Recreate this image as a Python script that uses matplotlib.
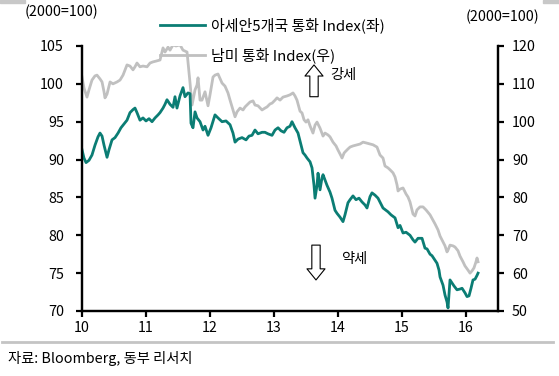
import matplotlib
matplotlib.use("Agg")
import matplotlib.pyplot as plt
from matplotlib.lines import Line2D
from matplotlib.patches import Rectangle

plt.rcParams['font.family'] = ['Noto Sans CJK KR', 'DejaVu Sans']

# 아세안5개국 통화 Index (좌축), x = 연도(2자리 + 소수)
asean_t = [10.000, 10.031, 10.063, 10.109, 10.156, 10.203, 10.250, 10.281, 10.313, 10.344,
           10.391, 10.422, 10.469, 10.516, 10.563, 10.609, 10.656, 10.703, 10.750, 10.797,
           10.828, 10.859, 10.906, 10.953, 11.000, 11.047, 11.094, 11.141, 11.188, 11.219,
           11.266, 11.297, 11.328, 11.375, 11.422, 11.453, 11.484, 11.531, 11.578, 11.609,
           11.656, 11.688, 11.703, 11.734, 11.766, 11.797, 11.844, 11.891, 11.922, 11.969,
           12.016, 12.078, 12.125, 12.188, 12.250, 12.313, 12.359, 12.391, 12.438, 12.500,
           12.563, 12.609, 12.656, 12.703, 12.750, 12.813, 12.859, 12.906, 12.969, 13.016,
           13.063, 13.109, 13.156, 13.203, 13.250, 13.281, 13.328, 13.375, 13.422, 13.453,
           13.484, 13.516, 13.563, 13.594, 13.625, 13.641, 13.672, 13.688, 13.719, 13.750,
           13.766, 13.797, 13.828, 13.875, 13.906, 13.953, 13.984, 14.031, 14.078, 14.109,
           14.156, 14.188, 14.234, 14.281, 14.328, 14.375, 14.422, 14.453, 14.500, 14.531,
           14.578, 14.625, 14.672, 14.703, 14.750, 14.781, 14.828, 14.891, 14.938, 14.969,
           15.016, 15.063, 15.125, 15.172, 15.203, 15.250, 15.313, 15.359, 15.391, 15.438,
           15.469, 15.516, 15.547, 15.578, 15.594, 15.641, 15.672, 15.703, 15.719, 15.734,
           15.750, 15.781, 15.813, 15.859, 15.906, 15.938, 15.984, 16.016, 16.047, 16.078,
           16.109, 16.141, 16.172, 16.188]
asean_v = [91.3, 90.2, 89.6, 89.9, 90.6, 91.9, 93.0, 93.5, 93.1, 91.9,
           90.3, 91.3, 92.6, 92.9, 93.5, 94.2, 94.7, 95.2, 96.2, 96.6,
           96.8, 96.2, 95.2, 95.5, 95.1, 95.4, 95.0, 95.5, 95.9, 96.2,
           96.8, 97.3, 97.9, 97.3, 96.9, 98.3, 96.8, 98.4, 99.5, 98.3,
           98.8, 98.7, 94.8, 94.2, 96.3, 95.5, 95.0, 93.9, 94.4, 93.2,
           94.2, 95.9, 95.5, 95.0, 95.1, 94.6, 93.5, 92.3, 92.7, 92.9,
           92.6, 93.1, 93.2, 93.9, 93.4, 93.6, 93.6, 93.4, 93.2, 93.9,
           94.2, 93.8, 93.6, 94.2, 94.4, 95.0, 94.2, 93.5, 91.9, 90.9,
           90.6, 90.2, 89.7, 88.9, 86.6, 84.9, 86.6, 88.2, 86.0, 87.6,
           88.0, 87.3, 86.6, 85.7, 84.9, 83.3, 82.9, 82.4, 81.8, 82.7,
           84.3, 84.7, 85.2, 84.7, 84.9, 84.4, 84.0, 83.6, 85.1, 85.6,
           85.3, 84.9, 84.1, 83.6, 83.3, 83.1, 82.7, 82.3, 81.0, 81.3,
           80.3, 80.4, 80.0, 79.4, 79.1, 79.6, 79.6, 78.3, 78.2, 77.5,
           77.3, 76.7, 76.3, 75.4, 74.5, 73.4, 72.1, 71.2, 70.4, 72.1,
           74.1, 73.7, 73.3, 72.8, 72.9, 73.0, 72.4, 71.9, 72.0, 73.0,
           74.1, 74.2, 74.7, 75.0]

# 남미 통화 Index (우축)
latam_t = [10.000, 10.031, 10.078, 10.109, 10.156, 10.203, 10.234, 10.281, 10.313, 10.344,
           10.359, 10.391, 10.438, 10.484, 10.547, 10.594, 10.641, 10.703, 10.750, 10.797,
           10.828, 10.859, 10.906, 10.953, 11.016, 11.063, 11.109, 11.156, 11.219, 11.266,
           11.297, 11.344, 11.375, 11.422, 11.469, 11.531, 11.578, 11.641, 11.656, 11.688,
           11.719, 11.750, 11.766, 11.797, 11.813, 11.844, 11.875, 11.922, 11.969, 12.000,
           12.047, 12.078, 12.125, 12.188, 12.234, 12.281, 12.313, 12.359, 12.391, 12.422,
           12.469, 12.516, 12.547, 12.594, 12.625, 12.672, 12.703, 12.750, 12.813, 12.859,
           12.891, 12.938, 12.969, 13.016, 13.047, 13.094, 13.141, 13.203, 13.250, 13.297,
           13.328, 13.359, 13.406, 13.438, 13.469, 13.500, 13.531, 13.563, 13.609, 13.641,
           13.672, 13.719, 13.766, 13.797, 13.844, 13.875, 13.922, 13.969, 14.000, 14.031,
           14.063, 14.094, 14.109, 14.156, 14.188, 14.234, 14.297, 14.344, 14.391, 14.438,
           14.500, 14.547, 14.609, 14.656, 14.703, 14.734, 14.781, 14.813, 14.859, 14.891,
           14.922, 14.938, 14.969, 15.016, 15.063, 15.094, 15.125, 15.172, 15.203, 15.234,
           15.281, 15.328, 15.375, 15.438, 15.484, 15.516, 15.563, 15.594, 15.641, 15.672,
           15.703, 15.719, 15.750, 15.797, 15.828, 15.875, 15.906, 15.953, 15.984, 16.031,
           16.063, 16.094, 16.125, 16.156, 16.172, 16.188]
latam_v = [111.8, 108.9, 106.5, 108.4, 111.0, 112.1, 112.3, 111.3, 110.5, 107.9,
           106.3, 107.3, 110.5, 110.0, 110.5, 111.0, 112.3, 115.0, 114.7, 113.7,
           114.5, 115.5, 114.5, 114.7, 114.5, 115.5, 115.8, 116.0, 116.3, 119.5,
           118.4, 119.7, 118.9, 120.3, 120.0, 120.3, 118.9, 118.4, 115.8, 110.2,
           104.4, 107.1, 108.4, 109.7, 111.6, 105.7, 105.7, 107.9, 104.2, 107.1,
           111.8, 112.3, 112.6, 110.2, 109.4, 107.6, 105.7, 103.1, 101.3, 102.6,
           103.6, 103.1, 103.9, 104.7, 105.2, 105.5, 104.4, 104.2, 103.1, 103.6,
           103.9, 104.7, 104.9, 105.7, 106.3, 105.7, 106.5, 106.8, 107.1, 107.6,
           106.8, 105.7, 102.8, 102.3, 100.5, 99.9, 100.5, 98.9, 97.0, 99.1,
           99.9, 98.3, 96.2, 97.0, 96.5, 96.0, 94.6, 93.6, 92.5, 91.5,
           90.4, 91.7, 92.0, 92.8, 93.3, 93.6, 93.9, 94.1, 94.6, 94.4,
           94.1, 93.9, 93.3, 91.2, 90.4, 88.3, 87.8, 87.3, 86.5, 85.4,
           83.3, 81.7, 82.2, 82.5, 80.9, 80.1, 78.8, 75.6, 75.1, 76.7,
           77.5, 77.5, 76.7, 75.4, 74.0, 73.0, 71.4, 69.8, 68.2, 67.2,
           65.6, 66.1, 67.4, 67.2, 66.9, 65.9, 64.5, 63.0, 61.9, 60.8,
           60.0, 60.6, 61.4, 63.0, 64.0, 63.0]

year_ticks = [10, 11, 12, 13, 14, 15, 16]
left_ticks = [70, 75, 80, 85, 90, 95, 100, 105]
right_ticks = [50, 60, 70, 80, 90, 100, 110, 120]

teal = '#0b7d74'
grey = '#c0c0c0'
fs = 10.3

fig = plt.figure(figsize=(5.59, 3.76), dpi=100)
ax = fig.add_axes([0.1467, 0.1729, 0.7442, 0.7048])
ax2 = ax.twinx()

l2, = ax2.plot(latam_t, latam_v, color=grey, lw=2.0)
l1, = ax.plot(asean_t, asean_v, color=teal, lw=2.0)
ax.set_zorder(ax2.get_zorder() + 1)
ax.patch.set_visible(False)

ax.set_xlim(10, 16.5)
ax.set_ylim(70, 105)
ax2.set_ylim(50, 120)
ax.set_xticks(year_ticks)
ax.set_xticklabels([str(y) for y in year_ticks])
ax.set_yticks(left_ticks)
ax2.set_yticks(right_ticks)

for a in (ax, ax2):
    a.spines['top'].set_visible(False)
    for s in ('left', 'right', 'bottom'):
        a.spines[s].set_linewidth(1.6)
ax.tick_params(axis='y', direction='out', length=4, width=1.6, pad=9, labelsize=fs)
ax.tick_params(axis='x', direction='out', length=4, width=1.6, pad=3, labelsize=fs)
ax2.tick_params(axis='y', direction='out', length=4, width=1.6, pad=6, labelsize=fs)

fig.legend([l1, l2], ['아세안5개국 통화 Index(좌)', '남미 통화 Index(우)'],
           loc='upper left', bbox_to_anchor=(0.286, 0.953), bbox_transform=fig.transFigure,
           frameon=False, borderpad=0, borderaxespad=0, fontsize=10.8,
           handlelength=3.0, handletextpad=0.4, labelspacing=0.95)

# 강세 / 약세 화살표
arrow = dict(arrowstyle='simple,head_width=1.3,head_length=0.8,tail_width=0.6',
             fc='white', ec='black', lw=0.8, shrinkA=0, shrinkB=0)
ax.annotate('', xy=(13.625, 102.5), xytext=(13.625, 98.3), arrowprops=arrow)
ax.annotate('', xy=(13.656, 74.1), xytext=(13.656, 78.7), arrowprops=arrow)
ax.text(14.09, 101.2, '강세', ha='center', va='center', fontsize=fs)
ax.text(14.25, 76.9, '약세', ha='center', va='center', fontsize=fs)

fig.text(25 / 559, 1 - 12 / 376, '(2000=100)', ha='left', va='center', fontsize=fs)
fig.text(539 / 559, 1 - 17 / 376, '(2000=100)', ha='right', va='center', fontsize=fs)
fig.text(8 / 559, 1 - 358 / 376, '자료: Bloomberg, 동부 리서치', ha='left', va='center', fontsize=fs)

fig.add_artist(Line2D([0.004, 0.99], [1 - 342 / 376] * 2, color='#c4c4c4', lw=2,
                      transform=fig.transFigure))
fig.add_artist(Rectangle((0, 1 - 3 / 376), 25 / 559, 3 / 376, color='#c8c8c8',
                         transform=fig.transFigure))
fig.add_artist(Rectangle((543 / 559, 1 - 3 / 376), 16 / 559, 3 / 376, color='#c8c8c8',
                         transform=fig.transFigure))

fig.savefig('out.png', dpi=100)
